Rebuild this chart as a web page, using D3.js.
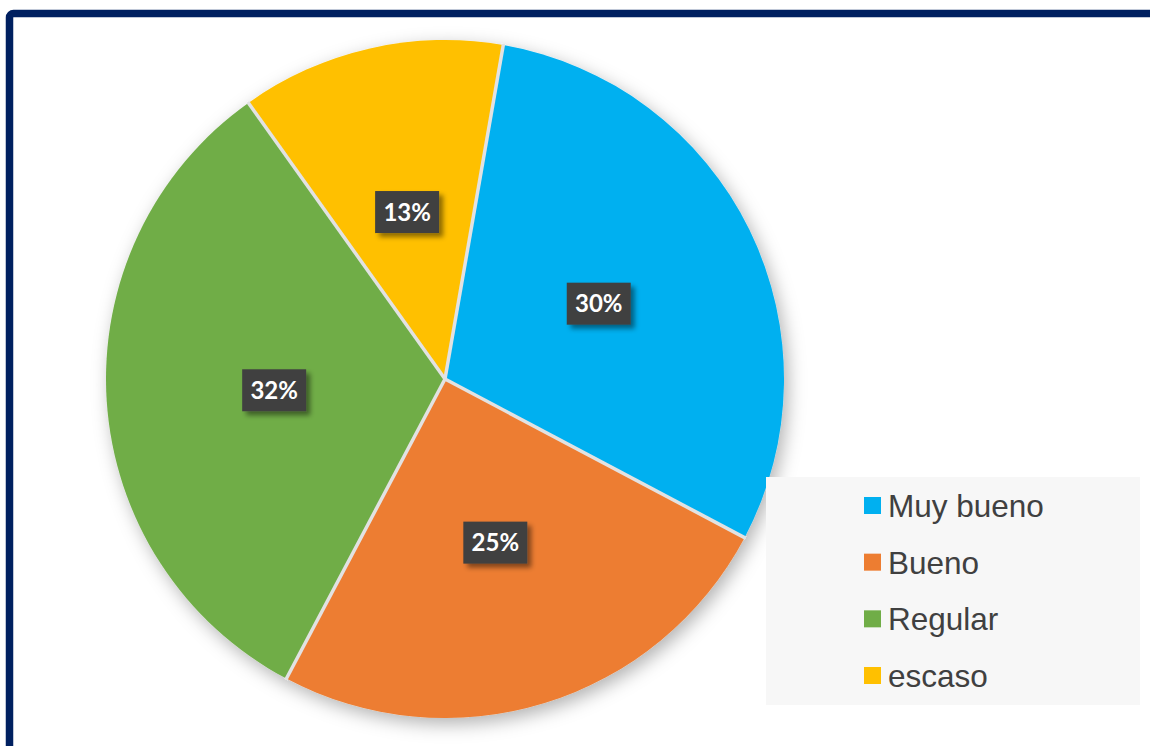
<!DOCTYPE html>
<html>
<head>
<meta charset="utf-8">
<script src="https://cdn.jsdelivr.net/npm/d3@7"></script>
<style>
  html, body { margin: 0; padding: 0; background: #fff; }
  svg { display: block; }
</style>
</head>
<body>
<div id="chart"></div>
<script>
// data
var categories = ["Muy bueno", "Bueno", "Regular", "escaso"];
var values = [30, 25, 32.4, 12.6];
var colors = ["#00b0f0", "#ed7d31", "#70ad47", "#ffc000"];

var width = 1150, height = 746;
var cx = 445, cy = 379, radius = 339;
var firstSliceAngle = 9.9 * Math.PI / 180;

var svg = d3.select("#chart").append("svg")
    .attr("width", width)
    .attr("height", height);

var defs = svg.append("defs");
var pieShadow = defs.append("filter").attr("id", "pieShadow")
    .attr("x", "-20%").attr("y", "-20%").attr("width", "140%").attr("height", "140%");
pieShadow.append("feDropShadow")
    .attr("dx", 4).attr("dy", 6).attr("stdDeviation", 9)
    .attr("flood-color", "#000").attr("flood-opacity", 0.3);
var boxShadow = defs.append("filter").attr("id", "boxShadow")
    .attr("x", "-30%").attr("y", "-30%").attr("width", "160%").attr("height", "160%");
boxShadow.append("feDropShadow")
    .attr("dx", 4).attr("dy", 4).attr("stdDeviation", 2.5)
    .attr("flood-color", "#000").attr("flood-opacity", 0.45);

// frame (runs off the right and bottom edges)
svg.append("rect")
    .attr("x", 9.5).attr("y", 13.5)
    .attr("width", 1200).attr("height", 800)
    .attr("rx", 4)
    .attr("fill", "#fff")
    .attr("stroke", "#002060")
    .attr("stroke-width", 7.5);

var total = d3.sum(values);
var pie = d3.pie()
    .sort(null)
    .startAngle(firstSliceAngle)
    .endAngle(firstSliceAngle + 2 * Math.PI)
    .value(function(d) { return d; });
var arcs = pie(values);

var arc = d3.arc().innerRadius(0).outerRadius(radius);
var labelArc = d3.arc().innerRadius(0).outerRadius(radius * 1.01);

var g = svg.append("g").attr("transform", "translate(" + cx + "," + cy + ")");

var pieGroup = g.append("g").attr("filter", "url(#pieShadow)");
pieGroup.selectAll("path")
    .data(arcs)
    .enter()
    .append("path")
    .attr("d", arc)
    .attr("fill", function(d, i) { return colors[i]; });

// light separators between slices
pieGroup.selectAll("line")
    .data(arcs)
    .enter()
    .append("line")
    .attr("x1", 0).attr("y1", 0)
    .attr("x2", function(d) { return Math.sin(d.startAngle) * (radius + 1); })
    .attr("y2", function(d) { return -Math.cos(d.startAngle) * (radius + 1); })
    .attr("stroke", "#e2e2e2")
    .attr("stroke-width", 3.5);

// data labels
var boxW = 64, boxH = 42;
var lab = g.selectAll(".lbl")
    .data(arcs)
    .enter()
    .append("g")
    .attr("class", "lbl")
    .attr("transform", function(d) {
        var c = labelArc.centroid(d);
        return "translate(" + c[0] + "," + c[1] + ")";
    });
lab.append("rect")
    .attr("x", -boxW / 2).attr("y", -boxH / 2)
    .attr("width", boxW).attr("height", boxH)
    .attr("fill", "#404040")
    .attr("filter", "url(#boxShadow)");
lab.append("text")
    .attr("text-anchor", "middle")
    .attr("dy", "0.36em")
    .attr("font-family", "Lato, 'Open Sans', sans-serif")
    .attr("font-weight", "bold")
    .attr("font-size", 24)
    .attr("fill", "#fff")
    .text(function(d) { return Math.round(d.value / total * 100) + "%"; });

// legend
var legend = svg.append("g");
legend.append("rect")
    .attr("x", 766).attr("y", 477)
    .attr("width", 374).attr("height", 228)
    .attr("fill", "#f7f7f7");
var legendY = d3.scalePoint().domain(categories).range([505.5, 675.5]);
var item = legend.selectAll(".item")
    .data(categories)
    .enter()
    .append("g")
    .attr("class", "item")
    .attr("transform", function(d) { return "translate(864," + legendY(d) + ")"; });
item.append("rect")
    .attr("x", 0).attr("y", -8.5)
    .attr("width", 17).attr("height", 17)
    .attr("fill", function(d, i) { return colors[i]; });
item.append("text")
    .attr("x", 24).attr("y", 11.5)
    .attr("font-family", "'Liberation Sans', Arial, sans-serif")
    .attr("font-size", 31.5)
    .attr("fill", "#404040")
    .text(function(d) { return d; });
</script>
</body>
</html>
